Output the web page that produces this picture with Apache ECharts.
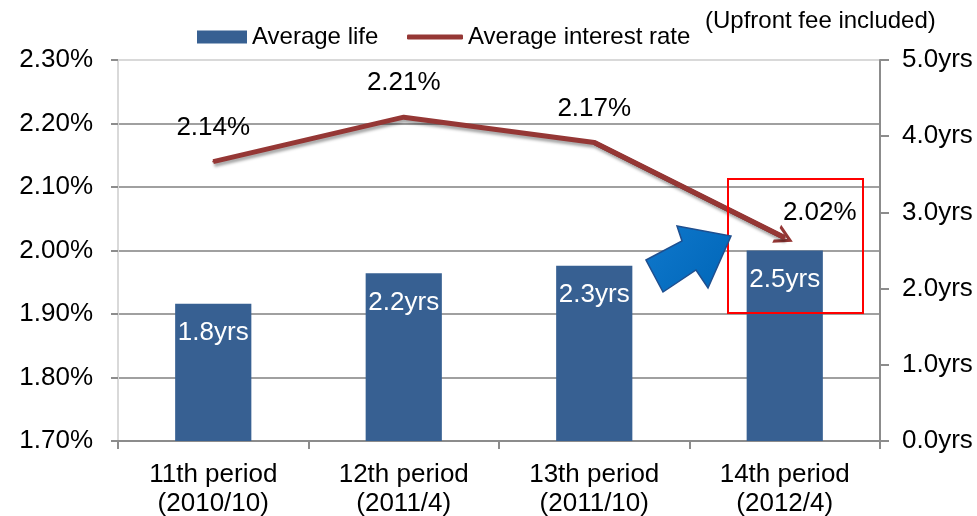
<!DOCTYPE html>
<html>
<head>
<meta charset="utf-8">
<title>Average life and average interest rate</title>
<script src="https://cdn.jsdelivr.net/npm/echarts@6/dist/echarts.min.js"></script>
<style>
  html, body { margin: 0; padding: 0; background: #ffffff; }
  #chart { width: 977px; height: 516px; }
</style>
</head>
<body>
<div id="chart"></div>
<script>
// Issue periods (category axis)
var categories = [
  '11th period\n(2010/10)',
  '12th period\n(2011/4)',
  '13th period\n(2011/10)',
  '14th period\n(2012/4)'
];
// Average life in years (right axis, bars)
var averageLife = [1.8, 2.2, 2.3, 2.5];
// Average interest rate in percent, upfront fee included (left axis, line)
var averageRate = [2.14, 2.21, 2.17, 2.02];

// Axis ranges
var rateMin = 1.7, rateMax = 2.3, rateStep = 0.1;
var lifeMin = 0, lifeMax = 5, lifeStep = 1;

var FONT = '"Liberation Sans", Arial, sans-serif';
var BAR_COLOR = '#376092';
var LINE_COLOR = '#953735';

var chart = echarts.init(document.getElementById('chart'), null, { renderer: 'canvas' });

var last = averageRate.length - 1;
var lineData = averageRate.map(function (v, i) {
  if (i === last) {
    return { value: v, label: { offset: [35, 9] } };
  }
  return v;
});

// Open chevron used as the arrowhead at the end of the rate line
var chevron = 'path://M0,20 L10,0 L20,20 L16.5,20 L10,7 L3.5,20 Z';

var option = {
  backgroundColor: '#ffffff',
  animation: false,
  textStyle: { fontFamily: FONT, color: '#000' },
  legend: [
    {
      data: ['Average life'],
      left: 192, top: 20,
      icon: 'rect',
      itemWidth: 50, itemHeight: 13,
      textStyle: { fontFamily: FONT, fontSize: 24, color: '#000' }
    },
    {
      data: ['Average interest rate'],
      left: 402, top: 20,
      icon: 'roundRect',
      itemWidth: 56, itemHeight: 5,
      textStyle: { fontFamily: FONT, fontSize: 24, color: '#000' }
    }
  ],
  grid: {
    left: 118, right: 97, top: 60, bottom: 75,
    containLabel: false,
    outerBoundsMode: 'none'
  },
  xAxis: {
    type: 'category',
    data: categories,
    boundaryGap: true,
    axisLine: { lineStyle: { color: '#8c8c8c', width: 2 } },
    axisTick: { show: true, length: 8, lineStyle: { color: '#8c8c8c', width: 2 } },
    axisLabel: {
      margin: 19, fontFamily: FONT, fontSize: 26, lineHeight: 29, color: '#000'
    },
    splitLine: { show: false }
  },
  yAxis: [
    {
      type: 'value',
      position: 'left',
      min: rateMin, max: rateMax, interval: rateStep,
      axisLine: { show: true, lineStyle: { color: '#d9d9d9', width: 2 } },
      axisTick: { show: true, length: 7, lineStyle: { color: '#8c8c8c', width: 2 } },
      axisLabel: {
        margin: 25, fontFamily: FONT, fontSize: 26, color: '#000',
        formatter: function (v) { return v.toFixed(2) + '%'; }
      },
      splitLine: {
        show: true,
        lineStyle: {
          color: ['#a0a0a0', '#a0a0a0', '#a0a0a0', '#a0a0a0', '#a0a0a0', '#a0a0a0', '#d9d9d9'],
          width: 2
        }
      }
    },
    {
      type: 'value',
      position: 'right',
      min: lifeMin, max: lifeMax, interval: lifeStep,
      axisLine: { show: true, lineStyle: { color: '#8c8c8c', width: 2 } },
      axisTick: { show: true, length: 9, lineStyle: { color: '#8c8c8c', width: 2 } },
      axisLabel: {
        margin: 22, fontFamily: FONT, fontSize: 26, color: '#000',
        formatter: function (v) { return v.toFixed(1) + 'yrs'; }
      },
      splitLine: { show: false }
    }
  ],
  series: [
    {
      name: 'Average life',
      type: 'bar',
      yAxisIndex: 1,
      data: averageLife,
      barWidth: '40%',
      itemStyle: { color: BAR_COLOR },
      label: {
        show: true,
        position: 'insideTop',
        distance: 16,
        fontFamily: FONT, fontSize: 26, color: '#ffffff',
        formatter: function (p) { return p.value.toFixed(1) + 'yrs'; }
      },
      z: 2
    },
    {
      name: 'Average interest rate',
      type: 'line',
      yAxisIndex: 0,
      data: lineData,
      symbol: 'circle',
      symbolSize: 2,
      showSymbol: true,
      lineStyle: {
        color: LINE_COLOR, width: 5,
        shadowColor: 'rgba(0,0,0,0.35)', shadowBlur: 3, shadowOffsetY: 3, shadowOffsetX: 1
      },
      itemStyle: { color: LINE_COLOR, borderWidth: 0 },
      label: {
        show: true,
        position: 'top',
        distance: 20,
        fontFamily: FONT, fontSize: 26, color: '#000',
        formatter: function (p) { return p.value.toFixed(2) + '%'; }
      },
      markLine: {
        silent: true,
        animation: false,
        symbol: ['none', chevron],
        symbolSize: [20, 18],
        label: { show: false },
        lineStyle: { color: LINE_COLOR, width: 5, type: 'solid', opacity: 1 },
        emphasis: { disabled: true },
        data: [[
          { coord: [last - 1, averageRate[last - 1]] },
          { coord: [last, averageRate[last]] }
        ]]
      },
      z: 5
    }
  ],
  graphic: [
    {
      type: 'text',
      left: 705, top: 9,
      style: { text: '(Upfront fee included)', fontFamily: FONT, fontSize: 24, fill: '#000' }
    },
    {
      // highlight box around the latest period
      type: 'rect',
      shape: { x: 728, y: 179, width: 135, height: 134 },
      style: { fill: 'none', stroke: '#ff0000', lineWidth: 2 },
      z: 10
    },
    {
      // block arrow pointing at the latest period
      type: 'polygon',
      shape: {
        points: [[646, 260], [682, 241], [677, 226], [731, 236], [708, 288], [696, 270], [663, 292]]
      },
      style: {
        fill: {
          type: 'linear', x: 0, y: 0, x2: 1, y2: 1,
          colorStops: [{ offset: 0, color: '#0f78cc' }, { offset: 1, color: '#0066b8' }]
        },
        stroke: '#1f4f8f', lineWidth: 1.5
      },
      z: 10
    }
  ]
};

chart.setOption(option);
</script>
</body>
</html>
